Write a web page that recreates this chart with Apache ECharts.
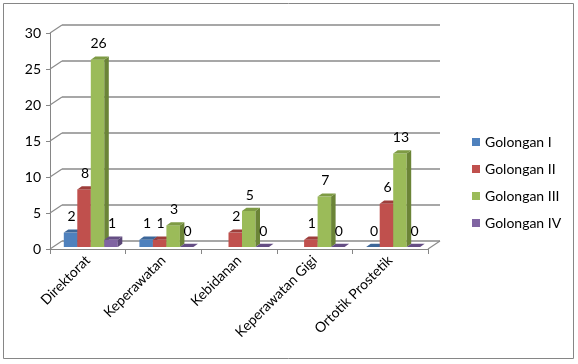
<!DOCTYPE html>
<html>
<head>
<meta charset="utf-8">
<script src="https://cdn.jsdelivr.net/npm/echarts@6/dist/echarts.min.js"></script>
<style>html,body{margin:0;padding:0;background:#fff}#c{width:578px;height:364px}</style>
</head>
<body>
<div id="c"></div>
<script>
const categories = ['Direktorat', 'Keperawatan', 'Kebidanan', 'Keperawatan Gigi', 'Ortotik Prostetik'];
const seriesNames = ['Golongan I', 'Golongan II', 'Golongan III', 'Golongan IV'];
const golonganI = [2, 1, null, null, 0];
const golonganII = [8, 1, 2, 1, 6];
const golonganIII = [26, 3, 5, 7, 13];
const golonganIV = [1, 0, 0, 0, 0];
const yTicks = [0, 5, 10, 15, 20, 25, 30];

const allValues = [golonganI, golonganII, golonganIII, golonganIV];
const FONT = 'Lato, "Open Sans", sans-serif';
const faces = [
  { front: '#4F81BD', top: '#3D6799', side: '#385D8A' },
  { front: '#C0504D', top: '#9E3E3B', side: '#8C3836' },
  { front: '#9BBB59', top: '#7E9B44', side: '#6B8437' },
  { front: '#8064A2', top: '#654E84', side: '#5A4676' }
];
const DX = 12, DY = -8;        // wall depth
const BW = 13.5, bdx = 4.5, bdy = -3.2; // bar width & bar depth

function barRender(si) {
  return function (params, api) {
    const ci = api.value(0), v = api.value(1);
    if (v === null || isNaN(v)) return null;
    const base = api.coord([ci, 0]);
    const top = api.coord([ci, v]);
    const x0 = base[0] - 24 + si * BW;
    const y0 = base[1] - 2;
    const yt = top[1] - 2;
    const f = faces[si];
    const children = [];
    if (y0 - yt > 0.1) {
      children.push({ type: 'rect', shape: { x: x0, y: yt, width: BW, height: y0 - yt },
        style: { fill: f.front } });
      children.push({ type: 'polygon', shape: { points: [[x0 + BW, yt], [x0 + BW + bdx, yt + bdy], [x0 + BW + bdx, y0 + bdy], [x0 + BW, y0]] },
        style: { fill: f.side } });
    }
    children.push({ type: 'polygon', shape: { points: [[x0, yt], [x0 + bdx, yt + bdy], [x0 + BW + bdx, yt + bdy], [x0 + BW, yt]] },
      style: { fill: f.top } });
    children.push({ type: 'text', style: { text: String(v), x: x0 + BW / 2 + 1, y: yt - 16, align: 'center', verticalAlign: 'middle',
      font: '14px ' + FONT, fill: '#000' } });
    return { type: 'group', children: children };
  };
}

const barSeries = allValues.map((arr, si) => ({
  type: 'custom',
  name: seriesNames[si],
  xAxisIndex: 0, yAxisIndex: 0,
  itemStyle: { color: faces[si].front },
  renderItem: barRender(si),
  data: arr.map((v, i) => [i, v === null ? NaN : v]),
  z: 5
}));

const chart = echarts.init(document.getElementById('c'));
chart.setOption({
  animation: false,
  backgroundColor: '#fff',
  textStyle: { fontFamily: FONT },
  graphic: [{ type: 'rect', shape: { x: 3.5, y: 3.5, width: 570, height: 355 }, style: { fill: 'none', stroke: '#868686', lineWidth: 1 }, z: -1 }],
  legend: {
    data: seriesNames.map(n => ({ name: n, icon: 'rect' })),
    orient: 'vertical', left: 467, top: 130,
    itemWidth: 8, itemHeight: 8, itemGap: 13,
    textStyle: { fontSize: 14, color: '#000', fontFamily: FONT }
  },
  grid: [
    { left: 50, width: 378, top: 33, height: 216 },
    { left: 62, width: 378, top: 25, height: 216 }
  ],
  xAxis: [
    { type: 'category', gridIndex: 0, data: categories, boundaryGap: true,
      axisLine: { show: true, lineStyle: { color: '#868686' } },
      axisTick: { show: true, length: 5, lineStyle: { color: '#868686' } },
      axisLabel: { rotate: 45, interval: 0, margin: 9, fontSize: 14, color: '#000', fontFamily: FONT } },
    { type: 'category', gridIndex: 1, data: categories, show: false }
  ],
  yAxis: [
    { type: 'value', gridIndex: 0, min: 0, max: 30, interval: 5,
      axisLine: { show: true, lineStyle: { color: '#868686' } },
      axisTick: { show: true, length: 4, lineStyle: { color: '#868686' } },
      splitLine: { show: false },
      axisLabel: { fontSize: 14, color: '#000', margin: 9, fontFamily: FONT } },
    { type: 'value', gridIndex: 1, min: 0, max: 30, interval: 5,
      axisLine: { show: false }, axisTick: { show: false }, axisLabel: { show: false },
      splitLine: { show: true, lineStyle: { color: '#8a8a8a', width: 1.5 } } }
  ],
  series: [
    { type: 'custom', name: 'walls', xAxisIndex: 0, yAxisIndex: 0, silent: true, z: 1,
      data: yTicks.map(v => [0, v]),
      renderItem: function (params, api) {
        const cs = params.coordSys;
        const p = api.coord([0, api.value(1)]);
        const children = [{ type: 'line', shape: { x1: cs.x, y1: p[1], x2: cs.x + DX, y2: p[1] + DY },
          style: { stroke: '#8a8a8a', lineWidth: 1.2 } }];
        if (api.value(1) === 0) {
          children.push({ type: 'line', shape: { x1: cs.x + cs.width, y1: p[1], x2: cs.x + cs.width + DX, y2: p[1] + DY },
            style: { stroke: '#8a8a8a', lineWidth: 1.2 } });
        }
        return { type: 'group', children: children };
      } }
  ].concat(barSeries)
});
</script>
</body>
</html>
